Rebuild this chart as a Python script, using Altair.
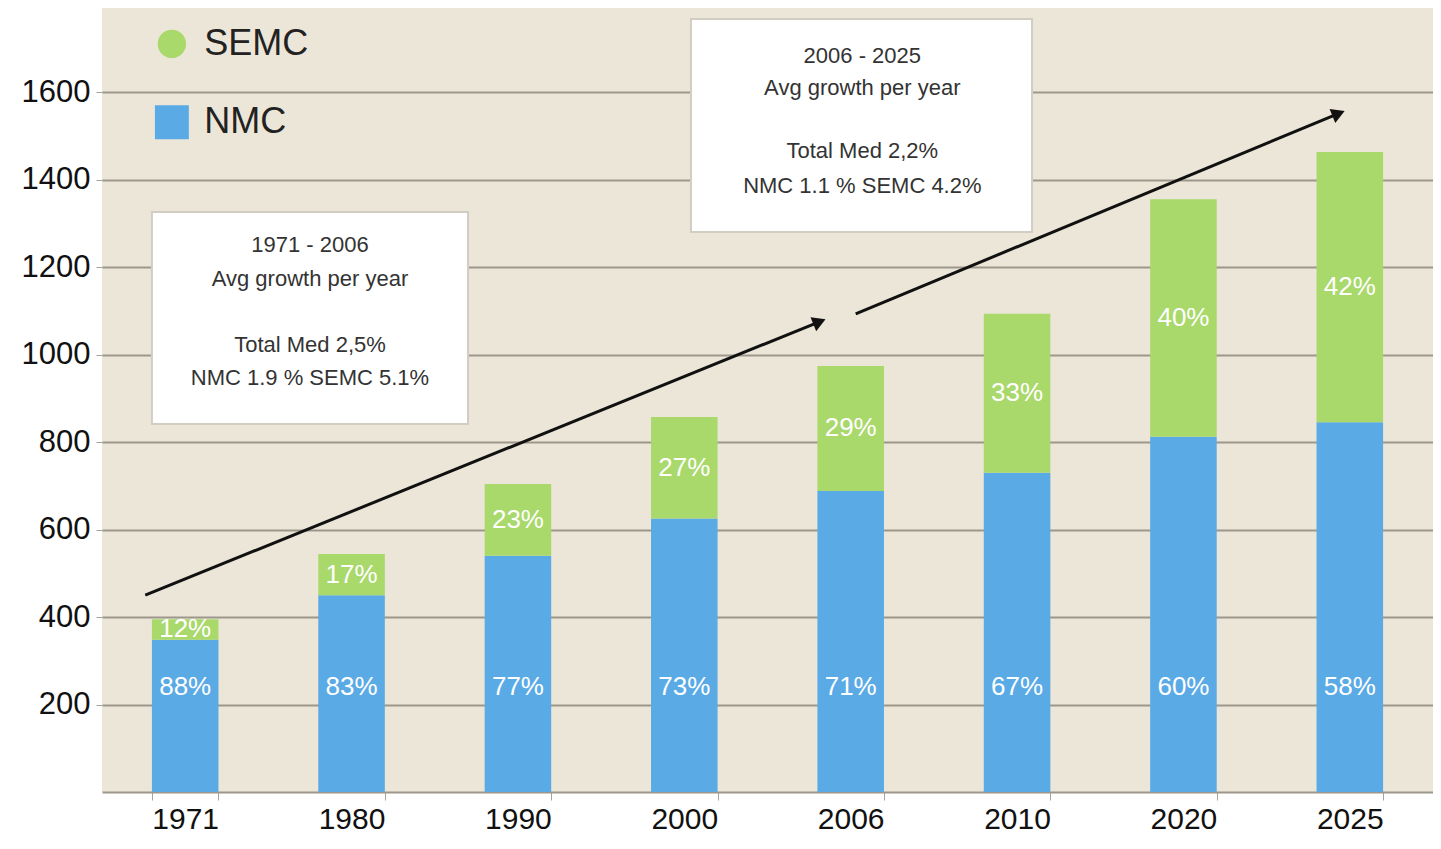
import altair as alt
import pandas as pd

# ---- data ----
years = ["1971", "1980", "1990", "2000", "2006", "2010", "2020", "2025"]
nmc = [348, 450, 540, 625, 688, 730, 812, 845]
semc = [47, 94, 164, 232, 286, 363, 543, 618]
nmc_pct = ["88%", "83%", "77%", "73%", "71%", "67%", "60%", "58%"]
semc_pct = ["12%", "17%", "23%", "27%", "29%", "33%", "40%", "42%"]

series_names = ["NMC", "SEMC"]
series_colors = ["#5aaae6", "#a9d86b"]

box1_lines = ["1971 - 2006", "Avg growth per year", "Total Med 2,5%", "NMC 1.9 % SEMC 5.1%"]
box2_lines = ["2006 - 2025", "Avg growth per year", "Total Med 2,2%", "NMC 1.1 % SEMC 4.2%"]

# annotation anchors in data units (x: band index 0..8, y: value units)
box1_x = [0.30, 2.20]
box1_y = [841, 1326]
box1_text_x = 1.25
box1_text_y = [1250, 1173, 1022, 946]
box2_x = [3.54, 5.59]
box2_y = [1280, 1767]
box2_text_x = 4.57
box2_text_y = [1682, 1609, 1465, 1385]

arrow_ids = ["a1", "a1", "a2", "a2"]
arrow_x = [0.26, 4.30, 4.53, 7.42]
arrow_y = [450, 1073, 1093, 1549]
head_x = [4.30, 7.42]
head_y = [1073, 1549]
head_angle = [68, 68]

legend_x = 0.42
legend_text_x = 0.615
legend_y = [1531, 1710]

FONT = "Liberation Sans"

# ---- tables ----
rows = []
for i, yr in enumerate(years):
    rows.append({"year": yr, "series": "NMC", "value": nmc[i], "ord": 0})
    rows.append({"year": yr, "series": "SEMC", "value": semc[i], "ord": 1})
long_df = pd.DataFrame(rows)
wide_df = pd.DataFrame({"year": years, "nmc": nmc, "semc": semc,
                        "nmc_pct": nmc_pct, "semc_pct": semc_pct})

yscale = alt.Scale(domain=[0, 1792], nice=False, zero=True)
xq = alt.Scale(domain=[0, 8], nice=False, zero=False)
xband = alt.Scale(paddingInner=0.6, paddingOuter=0.3)

bars = alt.Chart(long_df).mark_bar().encode(
    x=alt.X("year:N", sort=years, scale=xband,
            axis=alt.Axis(title=None, labelAngle=0, labelFontSize=30,
                          labelColor="#111111", labelFont=FONT,
                          tickBand="extent", tickSize=8, tickColor="#a8a397",
                          domainColor="#9d978b", domainWidth=2,
                          labelPadding=4, grid=False)),
    y=alt.Y("value:Q", stack="zero", scale=yscale,
            axis=alt.Axis(title=None, values=[200, 400, 600, 800, 1000, 1200, 1400, 1600],
                          format="d",
                          grid=True, gridColor="#9d978b", gridWidth=2,
                          domain=False, tickSize=6, tickColor="#a8a397",
                          labelFontSize=31, labelColor="#111111", labelFont=FONT,
                          labelPadding=6)),
    color=alt.Color("series:N", scale=alt.Scale(domain=series_names, range=series_colors),
                    legend=None),
    order=alt.Order("ord:Q"),
)

nmc_labels = alt.Chart(wide_df).mark_text(
    color="white", fontSize=26, font=FONT, baseline="middle"
).encode(
    x=alt.X("year:N", sort=years, scale=xband),
    y=alt.datum(240),
    text="nmc_pct:N",
)

semc_labels = alt.Chart(wide_df).transform_calculate(
    mid="datum.nmc + datum.semc / 2"
).mark_text(color="white", fontSize=26, font=FONT, baseline="middle").encode(
    x=alt.X("year:N", sort=years, scale=xband),
    y="mid:Q",
    text="semc_pct:N",
)

base = alt.layer(bars, nmc_labels, semc_labels)

boxes_df = pd.DataFrame({"x": [box1_x[0], box2_x[0]], "x2": [box1_x[1], box2_x[1]],
                         "y": [box1_y[0], box2_y[0]], "y2": [box1_y[1], box2_y[1]]})
boxes = alt.Chart(boxes_df).mark_rect(fill="white", stroke="#d2cdc2", strokeWidth=2).encode(
    x=alt.X("x:Q", scale=xq, axis=None), x2="x2:Q",
    y=alt.Y("y:Q", scale=yscale), y2="y2:Q",
)

btext_df = pd.DataFrame({
    "x": [box1_text_x] * 4 + [box2_text_x] * 4,
    "y": box1_text_y + box2_text_y,
    "t": box1_lines + box2_lines,
})
btext = alt.Chart(btext_df).mark_text(
    fontSize=22, font=FONT, color="#333333", baseline="middle", align="center"
).encode(
    x=alt.X("x:Q", scale=xq, axis=None),
    y=alt.Y("y:Q", scale=yscale),
    text="t:N",
)

arrow_df = pd.DataFrame({"id": arrow_ids, "x": arrow_x, "y": arrow_y})
arrows = alt.Chart(arrow_df).mark_line(color="#111111", strokeWidth=3).encode(
    x=alt.X("x:Q", scale=xq, axis=None),
    y=alt.Y("y:Q", scale=yscale),
    detail="id:N",
)
heads_df = pd.DataFrame({"x": head_x, "y": head_y, "a": head_angle})
heads = alt.Chart(heads_df).mark_point(
    shape="triangle", filled=True, color="#111111", size=230, opacity=1
).encode(
    x=alt.X("x:Q", scale=xq, axis=None),
    y=alt.Y("y:Q", scale=yscale),
    angle=alt.Angle("a:Q", scale=None),
)

leg_df = pd.DataFrame({"series": series_names, "x": [legend_x] * 2,
                       "tx": [legend_text_x] * 2, "y": legend_y})
leg_nmc = alt.Chart(leg_df).transform_filter("datum.series == 'NMC'").mark_point(
    shape="square", filled=True, size=1150, opacity=1, color=series_colors[0]
).encode(x=alt.X("x:Q", scale=xq, axis=None), y=alt.Y("y:Q", scale=yscale))
leg_semc = alt.Chart(leg_df).transform_filter("datum.series == 'SEMC'").mark_point(
    shape="circle", filled=True, size=800, opacity=1, color=series_colors[1]
).encode(x=alt.X("x:Q", scale=xq, axis=None), y=alt.Y("y:Q", scale=yscale))
leg_text = alt.Chart(leg_df).mark_text(
    fontSize=36, font=FONT, color="#222222", align="left", baseline="middle"
).encode(
    x=alt.X("tx:Q", scale=xq, axis=None),
    y=alt.Y("y:Q", scale=yscale),
    text="series:N",
)

annot = alt.layer(boxes, btext, arrows, heads, leg_nmc, leg_semc, leg_text)

chart = alt.layer(base, annot).resolve_scale(x="independent").properties(
    width=1331, height=784,
    padding={"left": 94, "top": 0, "right": 0, "bottom": 48},
    autosize="none",
    background="white",
).configure_view(fill="#ece6d8", stroke=None)

chart.save("out.html", embed_options={"renderer": "svg", "actions": False})
